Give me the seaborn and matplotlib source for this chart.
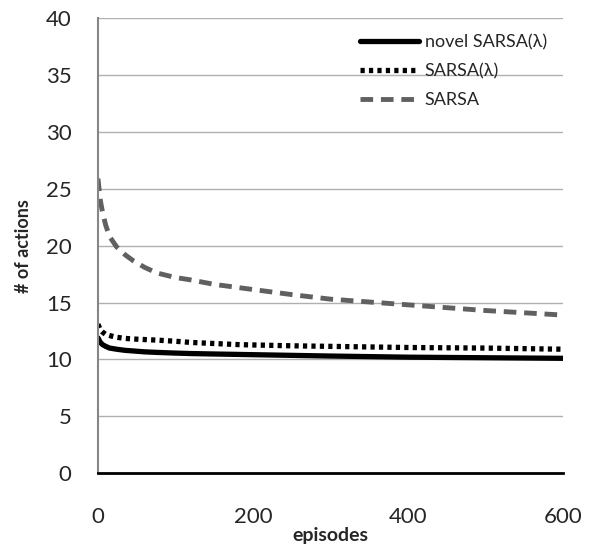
import pandas as pd
import seaborn as sns
import matplotlib.pyplot as plt

# Values
episodes = [0, 3, 6, 10, 15, 24, 35, 45, 60, 76, 100, 119, 150, 183, 250, 300, 400, 500, 600]
novel_sarsa_lambda = [11.9, 11.5, 11.3, 11.15, 11.0, 10.9, 10.8, 10.75, 10.67, 10.62, 10.56, 10.52,
                      10.48, 10.44, 10.36, 10.3, 10.2, 10.15, 10.1]
sarsa_lambda = [13.1, 12.6, 12.4, 12.2, 12.1, 11.95, 11.85, 11.8, 11.75, 11.7, 11.6, 11.5,
                11.4, 11.3, 11.2, 11.15, 11.05, 11.0, 10.9]
sarsa = [25.9, 24.0, 22.9, 21.8, 20.8, 19.9, 19.2, 18.7, 18.1, 17.6, 17.2, 17.0,
         16.6, 16.3, 15.7, 15.3, 14.8, 14.3, 13.9]
series_names = ["novel SARSA(\u03bb)", "SARSA(\u03bb)", "SARSA"]

df = pd.DataFrame({"episodes": episodes,
                   series_names[0]: novel_sarsa_lambda,
                   series_names[1]: sarsa_lambda,
                   series_names[2]: sarsa})
long = df.melt(id_vars="episodes", var_name="series", value_name="actions")

sns.set_style("white")
plt.rcParams["font.family"] = ["Lato", "DejaVu Sans"]

fig = plt.figure(figsize=(6.01, 5.49), dpi=100)
ax = fig.add_axes([0.163, 0.138, 0.774, 0.829])

styles = {
    series_names[0]: dict(color="black", lw=3.8, ls="-"),
    series_names[1]: dict(color="black", lw=3.8, ls=(0, (0.8, 0.8))),
    series_names[2]: dict(color="#606060", lw=3.5, ls=(0, (2.6, 1.6))),
}
for name in series_names:
    sub = long[long["series"] == name]
    sns.lineplot(data=sub, x="episodes", y="actions", ax=ax, label=name,
                 color=styles[name]["color"], linewidth=styles[name]["lw"])
    ax.lines[-1].set_linestyle(styles[name]["ls"])

ax.set_xlim(0, 600)
ax.set_ylim(0, 40)
ax.set_xticks([0, 200, 400, 600])
ax.set_yticks(range(0, 41, 5))
ax.grid(axis="y", color="#b0b0b0", lw=1)
ax.grid(axis="x", visible=False)
ax.tick_params(axis="x", labelsize=16, pad=24, length=0)
ax.tick_params(axis="y", labelsize=16, pad=19, length=0)
for s in ["top", "right"]:
    ax.spines[s].set_visible(False)
ax.spines["left"].set_color("#868686")
ax.spines["left"].set_linewidth(1.5)
ax.spines["bottom"].set_color("black")
ax.spines["bottom"].set_linewidth(2)

ax.set_xlabel("episodes", fontsize=14, fontweight="bold", labelpad=0)
ax.set_ylabel("# of actions", fontsize=13, fontweight="bold", labelpad=10)

leg = ax.legend(loc="upper right", bbox_to_anchor=(1.0, 1.0), frameon=False,
                fontsize=13, handlelength=3.3, handletextpad=0.3, labelspacing=0.7)

fig.savefig("out.png", dpi=100)
